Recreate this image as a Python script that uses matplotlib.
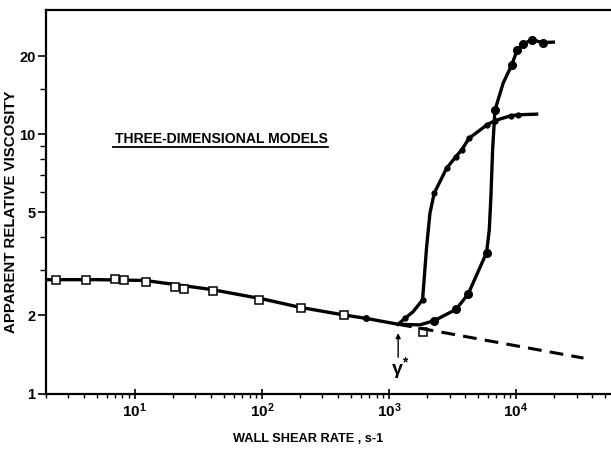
import numpy as np
import matplotlib
matplotlib.use("Agg")
import matplotlib.pyplot as plt
from matplotlib.ticker import FixedLocator, NullFormatter

plt.rcParams["font.family"] = ["Liberation Sans", "DejaVu Sans"]
plt.rcParams["font.weight"] = "bold"
plt.rcParams["mathtext.fontset"] = "custom"
plt.rcParams["mathtext.bf"] = "Liberation Sans:bold"
plt.rcParams["mathtext.rm"] = "Liberation Sans:bold"

# baseline curve (low shear)
base_x = [2.0, 5.0, 12.0, 20.0, 40.0, 100.0, 200.0, 440.0, 660.0, 1183.0]
base_y = [2.75, 2.75, 2.73, 2.64, 2.52, 2.32, 2.15, 2.01, 1.95, 1.85]

# open squares
sq_x = [2.4, 4.1, 7.0, 8.2, 12.2, 20.6, 24.3, 41.0, 95.0, 205.0, 440.0, 1840.0]
sq_y = [2.74, 2.74, 2.76, 2.74, 2.70, 2.58, 2.52, 2.49, 2.30, 2.13, 2.01, 1.73]

# extrapolated dashed line beyond gamma*
dash_x = [1183.0, 34000.0]
dash_y = [1.85, 1.37]

# curve 1 (earlier rise, plateau ~12)
c1_x = [1183, 1337, 1553, 1841, 1982, 2104, 2273, 2846, 3370, 3737, 4285, 5940, 6835, 9086, 10420, 14550]
c1_y = [1.85, 1.95, 2.07, 2.30, 3.69, 4.96, 5.93, 7.40, 8.21, 8.71, 9.67, 10.9, 11.3, 11.8, 11.9, 11.97]
c1_dot_x = [1337, 1841, 2273, 2846, 3370, 3737, 4285, 5940, 6835, 9086, 10420]
c1_dot_y = [1.95, 2.30, 5.93, 7.40, 8.21, 8.71, 9.67, 10.9, 11.3, 11.8, 11.9]

# curve 2 (later rise, plateau ~23)
c2_x = [1183, 1754, 2273, 3370, 4206, 5875, 6166, 6353, 6550, 6835, 7945, 9250, 10240, 11420, 13300, 16230, 19680]
c2_y = [1.85, 1.84, 1.91, 2.11, 2.42, 3.50, 4.28, 5.75, 8.71, 12.4, 15.8, 18.5, 21.2, 22.3, 23.2, 22.6, 22.7]
c2_dot_x = [2273, 3370, 4206, 5875, 6835, 9250, 10240, 11420, 13300, 16230]
c2_dot_y = [1.91, 2.11, 2.42, 3.50, 12.4, 18.5, 21.2, 22.3, 23.2, 22.6]

# single dot on baseline
pt_x = [660]
pt_y = [1.95]

gamma_star = 1183.0

fig = plt.figure(figsize=(6.11, 4.5), dpi=100)
ax = fig.add_axes([46 / 611, 1 - 393.5 / 450, 1 - 46 / 611, (393.5 - 10) / 450])
ax.set_xscale("log")
ax.set_yscale("log")
ax.set_xlim(2.0, 5.6e4)
ax.set_ylim(1.0, 30.2)

lw = 2.4
ax.plot(base_x, base_y, color="black", lw=lw, solid_capstyle="round")
ax.plot(sq_x, sq_y, ls="none", marker="s", ms=6, mfc="white", mec="black", mew=1.1)
ax.plot(dash_x, dash_y, color="black", lw=2.2, ls=(0, (4.5, 2.7)))
ax.plot(c1_x, c1_y, color="black", lw=lw)
ax.plot(c1_dot_x, c1_dot_y, ls="none", marker="o", ms=3.5, color="black")
ax.plot(c2_x, c2_y, color="black", lw=lw)
ax.plot(c2_dot_x, c2_dot_y, ls="none", marker="o", ms=5.5, color="black")
ax.plot(pt_x, pt_y, ls="none", marker="o", ms=4, color="black")

# gamma* marker
ax.annotate("", xy=(gamma_star, 1.71), xytext=(gamma_star, 1.38),
            arrowprops=dict(arrowstyle="-|>", color="black", lw=1.0,
                            mutation_scale=7, shrinkA=0, shrinkB=0))
ax.text(gamma_star * 1.04, 1.25, r"γ$^{*}$", fontsize=14, ha="center", va="center")

ax.text(0.122, 0.653, "THREE-DIMENSIONAL MODELS", transform=ax.transAxes,
        fontsize=10.1, fontweight="bold", ha="left", va="baseline")
ax.plot([0.119, 0.499], [0.643, 0.643], transform=ax.transAxes, color="black", lw=1.3)

# ticks
ax.xaxis.set_major_locator(FixedLocator([10, 100, 1000, 10000]))
ax.set_xticklabels([r"$\mathbf{10^{1}}$", r"$\mathbf{10^{2}}$", r"$\mathbf{10^{3}}$", r"$\mathbf{10^{4}}$"])
ax.xaxis.set_minor_locator(FixedLocator([m * 10.0 ** d for d in range(0, 5) for m in range(2, 10)]))
ax.xaxis.set_minor_formatter(NullFormatter())
ax.yaxis.set_major_locator(FixedLocator([1, 2, 5, 10, 20]))
ax.set_yticklabels(["1", "2", "5", "10", "20"])
ax.yaxis.set_minor_locator(FixedLocator([3, 4, 6, 7, 8, 9, 15]))
ax.yaxis.set_minor_formatter(NullFormatter())
ax.tick_params(axis="x", which="major", direction="inout", length=7, width=1.2, labelsize=11, pad=2)
ax.tick_params(axis="x", which="minor", direction="out", length=3, width=1.0)
ax.tick_params(axis="y", which="major", direction="out", length=6, width=1.2, labelsize=10.5, pad=1.5,
               right=True)
ax.tick_params(axis="y", which="minor", direction="out", length=4, width=1.0, right=True)
for t in ax.yaxis.get_majorticklabels():
    t.set_fontweight("bold")

ax.spines["right"].set_visible(False)
for s in ["left", "bottom", "top"]:
    ax.spines[s].set_linewidth(1.6)

ax.set_xlabel("WALL SHEAR RATE , s-1", fontsize=9.2, fontweight="bold")
ax.xaxis.set_label_coords(0.464, -0.103)
ax.set_ylabel("APPARENT RELATIVE VISCOSITY", fontsize=10.8, fontweight="bold")
ax.yaxis.set_label_coords(-0.050, 0.473)

fig.savefig("out.png", dpi=100)
plt.close(fig)
